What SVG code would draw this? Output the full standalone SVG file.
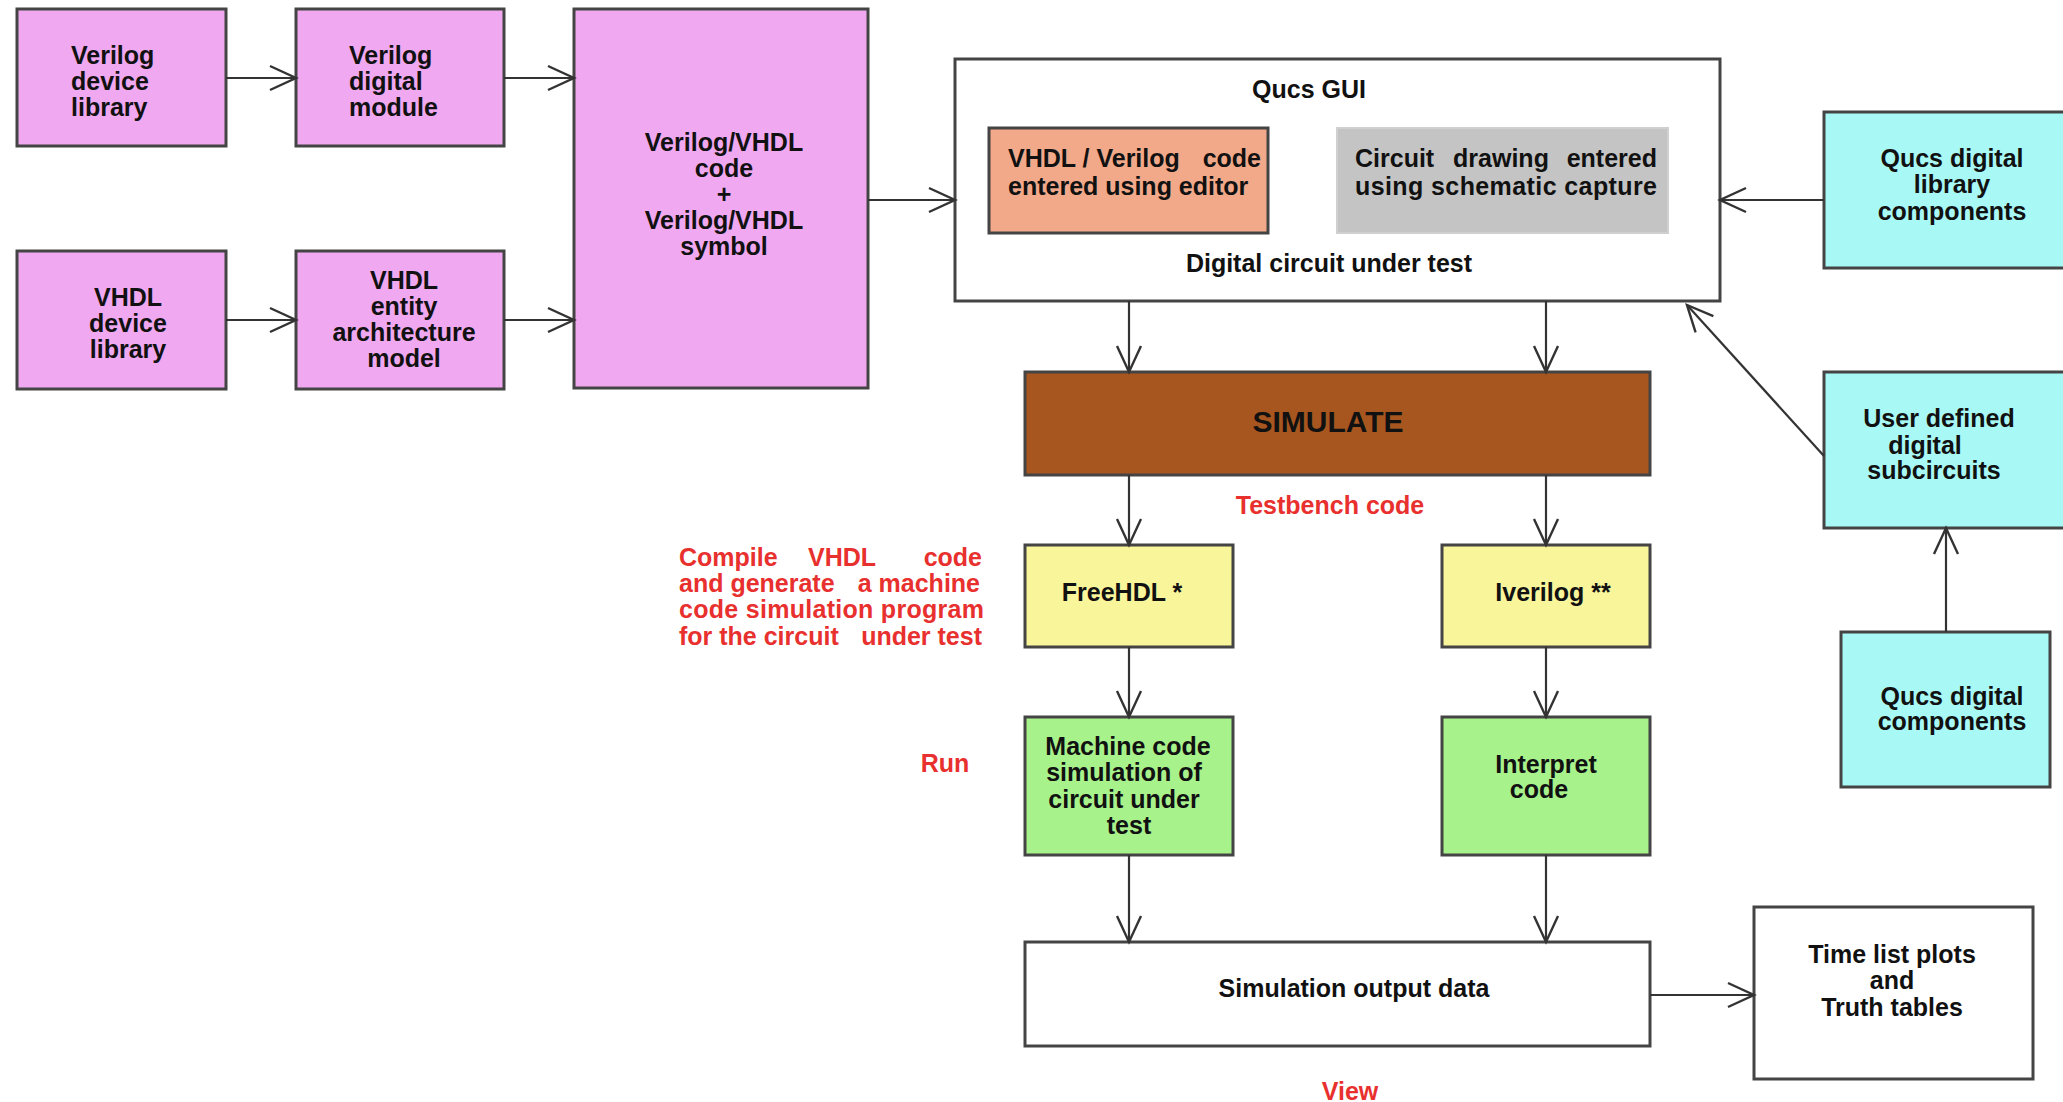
<svg xmlns="http://www.w3.org/2000/svg" width="2063" height="1102" viewBox="0 0 2063 1102">
<style>
text{font-family:"Liberation Sans",Arial,Helvetica,sans-serif;font-weight:bold;font-size:25px;fill:#111}
.c{text-anchor:middle}
.e{text-anchor:end}
.red{fill:#E8302E}
.box{stroke:#444;stroke-width:3}
.pink{fill:#F0A8F0}
.cyan{fill:#A8F8F6}
.yel{fill:#F8F59A}
.grn{fill:#A8F28C}
.wht{fill:#FFFFFF}
.con line{stroke:#333;stroke-width:2.2;fill:none;marker-end:url(#arr)}
</style>
<defs>
<marker id="arr" markerUnits="userSpaceOnUse" viewBox="-30 -16 34 32" refX="0" refY="0" markerWidth="34" markerHeight="32" orient="auto">
<path d="M-26,-12 L0,0 L-26,12" fill="none" stroke="#333" stroke-width="2.4"/>
</marker>
</defs>
<rect width="2063" height="1102" fill="#FFFFFF"/>

<g id="verilog-lib">
<rect class="box pink" x="17" y="9" width="209" height="137"/>
<text x="71" y="64">Verilog</text>
<text x="71" y="90">device</text>
<text x="71" y="116">library</text>
</g>
<g id="verilog-module">
<rect class="box pink" x="296" y="9" width="208" height="137"/>
<text x="349" y="64">Verilog</text>
<text x="349" y="90">digital</text>
<text x="349" y="116">module</text>
</g>
<g id="vhdl-lib">
<rect class="box pink" x="17" y="251" width="209" height="138"/>
<text class="c" x="128" y="306">VHDL</text>
<text class="c" x="128" y="332">device</text>
<text class="c" x="128" y="358">library</text>
</g>
<g id="vhdl-entity">
<rect class="box pink" x="296" y="251" width="208" height="138"/>
<text class="c" x="404" y="289">VHDL</text>
<text class="c" x="404" y="315">entity</text>
<text class="c" x="404" y="341">architecture</text>
<text class="c" x="404" y="367">model</text>
</g>
<g id="code-symbol">
<rect class="box pink" x="574" y="9" width="294" height="379"/>
<text class="c" x="724" y="151">Verilog/VHDL</text>
<text class="c" x="724" y="177">code</text>
<text class="c" x="724" y="203">+</text>
<text class="c" x="724" y="229">Verilog/VHDL</text>
<text class="c" x="724" y="255">symbol</text>
</g>

<g id="qucs-gui">
<rect class="box wht" x="955" y="59" width="765" height="242"/>
<text class="c" x="1309" y="98">Qucs GUI</text>
<text class="c" x="1329" y="272">Digital circuit under test</text>
</g>
<g id="code-editor">
<rect class="box" fill="#F2A98A" x="989" y="128" width="279" height="105"/>
<text x="1008" y="167">VHDL / Verilog</text>
<text class="e" x="1261" y="167">code</text>
<text x="1008" y="195">entered using editor</text>
</g>
<g id="schematic">
<rect fill="#C4C4C4" stroke="#D0D0D0" stroke-width="2" x="1337" y="128" width="331" height="105"/>
<text x="1355" y="167">Circuit</text>
<text class="c" x="1501" y="167">drawing</text>
<text class="e" x="1657" y="167">entered</text>
<text x="1355" y="195" textLength="302" lengthAdjust="spacing">using schematic capture</text>
</g>

<g id="qucs-lib">
<rect class="box cyan" x="1824" y="112" width="242" height="156"/>
<text class="c" x="1952" y="167">Qucs  digital</text>
<text class="c" x="1952" y="193">library</text>
<text class="c" x="1952" y="220">components</text>
</g>
<g id="user-sub">
<rect class="box cyan" x="1824" y="372" width="242" height="156"/>
<text class="c" x="1939" y="427">User  defined</text>
<text class="c" x="1925" y="454">digital</text>
<text class="c" x="1934" y="479">subcircuits</text>
</g>
<g id="qucs-comp">
<rect class="box cyan" x="1841" y="632" width="209" height="155"/>
<text class="c" x="1952" y="705">Qucs  digital</text>
<text class="c" x="1952" y="730">components</text>
</g>

<g id="simulate">
<rect class="box" fill="#A8561F" x="1025" y="372" width="625" height="103"/>
<text class="c" x="1328" y="432" style="font-size:30px">SIMULATE</text>
</g>
<text class="c red" x="1330" y="514">Testbench code</text>

<g id="freehdl">
<rect class="box yel" x="1025" y="545" width="208" height="102"/>
<text class="c" x="1122" y="601">FreeHDL *</text>
</g>
<g id="iverilog">
<rect class="box yel" x="1442" y="545" width="208" height="102"/>
<text class="c" x="1553" y="601">Iverilog **</text>
</g>
<g id="compile-note">
<text class="red" x="679" y="566">Compile</text>
<text class="red" x="808" y="566">VHDL</text>
<text class="red e" x="982" y="566">code</text>
<text class="red" x="679" y="592">and generate</text>
<text class="red e" x="980" y="592">a machine</text>
<text class="red" x="679" y="618" textLength="305" lengthAdjust="spacing">code simulation program</text>
<text class="red" x="679" y="645">for the circuit</text>
<text class="red e" x="982" y="645">under test</text>
</g>
<text class="c red" x="945" y="772">Run</text>

<g id="machine-code">
<rect class="box grn" x="1025" y="717" width="208" height="138"/>
<text class="c" x="1128" y="755">Machine code</text>
<text class="c" x="1124" y="781">simulation of</text>
<text class="c" x="1124" y="808">circuit  under</text>
<text class="c" x="1129" y="834">test</text>
</g>
<g id="interpret">
<rect class="box grn" x="1442" y="717" width="208" height="138"/>
<text class="c" x="1546" y="773">Interpret</text>
<text class="c" x="1539" y="798">code</text>
</g>

<g id="sim-output">
<rect class="box wht" x="1025" y="942" width="625" height="104"/>
<text class="c" x="1354" y="997">Simulation output data</text>
</g>
<g id="time-list">
<rect class="box wht" x="1754" y="907" width="279" height="172"/>
<text class="c" x="1892" y="963">Time list plots</text>
<text class="c" x="1892" y="989">and</text>
<text class="c" x="1892" y="1016">Truth tables</text>
</g>
<text class="c red" x="1350" y="1100">View</text>

<g id="connectors" class="con">
<line x1="226" y1="78" x2="296" y2="78"/>
<line x1="504" y1="78" x2="574" y2="78"/>
<line x1="226" y1="320" x2="296" y2="320"/>
<line x1="504" y1="320" x2="574" y2="320"/>
<line x1="868" y1="200" x2="955" y2="200"/>
<line x1="1824" y1="200" x2="1720" y2="200"/>
<line x1="1824" y1="456" x2="1687" y2="305"/>
<line x1="1946" y1="632" x2="1946" y2="528"/>
<line x1="1129" y1="301" x2="1129" y2="372"/>
<line x1="1546" y1="301" x2="1546" y2="372"/>
<line x1="1129" y1="475" x2="1129" y2="545"/>
<line x1="1546" y1="475" x2="1546" y2="545"/>
<line x1="1129" y1="647" x2="1129" y2="717"/>
<line x1="1546" y1="647" x2="1546" y2="717"/>
<line x1="1129" y1="855" x2="1129" y2="942"/>
<line x1="1546" y1="855" x2="1546" y2="942"/>
<line x1="1650" y1="995" x2="1754" y2="995"/>
</g>
</svg>
